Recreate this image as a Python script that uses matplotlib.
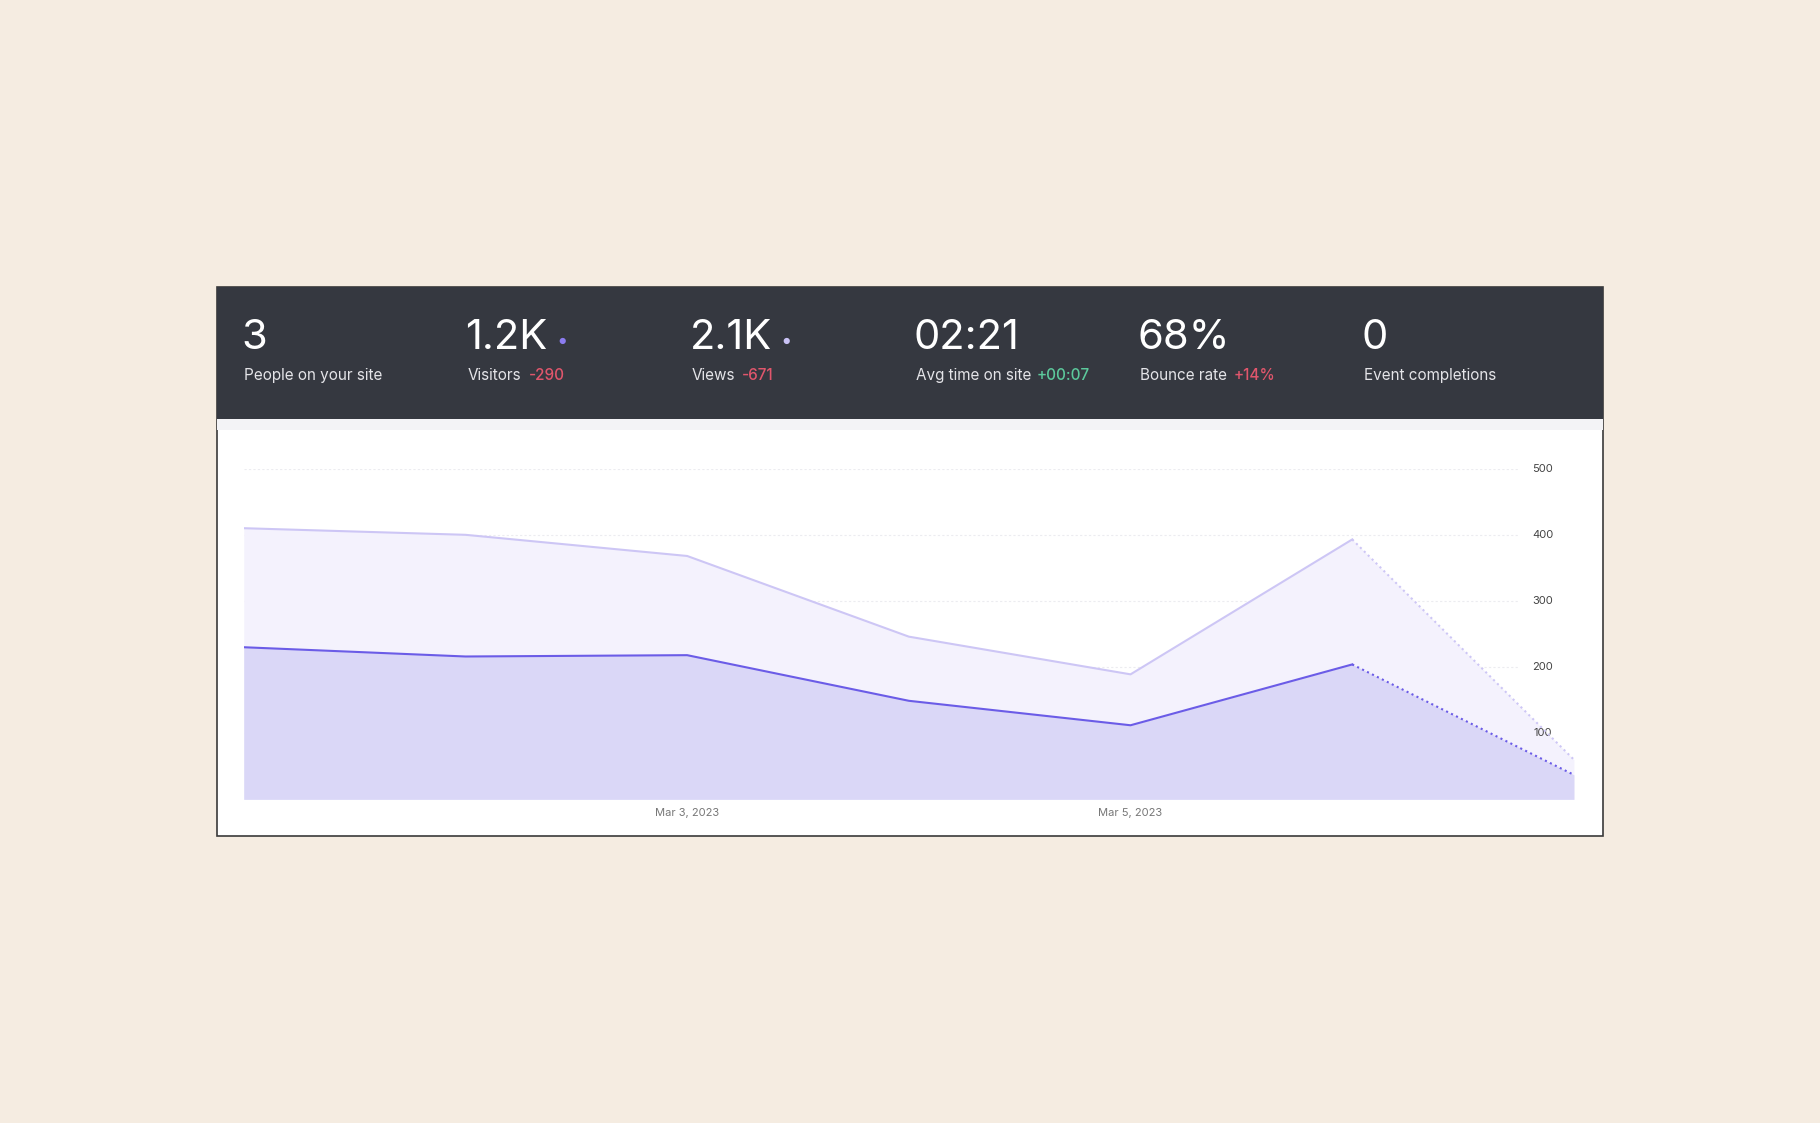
import matplotlib.pyplot as plt
from matplotlib.patches import Rectangle
import matplotlib.transforms as mtransforms

# data
days = [0, 1, 2, 3, 4, 5, 6]
views = [410, 400, 368, 246, 189, 393, 60]
visitors = [230, 216, 218, 149, 112, 204, 37]
y_ticks = [100, 200, 300, 400, 500]
x_labels = {2: "Mar 3, 2023", 4: "Mar 5, 2023"}

stat_values = ["3", "1.2K", "2.1K", "02:21", "68%", "0"]
stat_labels = ["People on your site", "Visitors", "Views", "Avg time on site", "Bounce rate", "Event completions"]
stat_changes = ["", "-290", "-671", "+00:07", "+14%", ""]
change_colors = ["", "#e0566c", "#e0566c", "#5cc99c", "#e0566c", ""]

W, H = 1568, 968  # reference layout units
bg = "#f5ece1"
header = "#353840"
vis_line, vis_fill = "#6b5ce7", "#dad7f7"
view_line, view_fill = "#cdc6f5", "#f4f2fd"

fig = plt.figure(figsize=(18.2, 11.23), dpi=100, facecolor=bg)
plt.rcParams['font.family'] = ['Inter', 'DejaVu Sans']


def fx(x):
    return x / W


def fy(y):
    return 1 - y / H


# card
fig.patches.append(Rectangle((fx(187), fy(721)), fx(1381) - fx(187), fy(247) - fy(721),
                             transform=fig.transFigure, facecolor="white", edgecolor="#3a3a3a",
                             linewidth=1.2, zorder=0))
fig.patches.append(Rectangle((fx(187), fy(371)), fx(1381) - fx(187), fy(361) - fy(371),
                             transform=fig.transFigure, facecolor="#f3f3f6", edgecolor="none", zorder=1))
fig.patches.append(Rectangle((fx(187), fy(361)), fx(1381) - fx(187), fy(247) - fy(361),
                             transform=fig.transFigure, facecolor=header, edgecolor="none", zorder=1))

# header stats
stat_x = [210, 403, 596, 789, 982, 1175]
label_end = [0, 449, 632, 886, 1056, 0]
for i in range(6):
    fig.text(fx(stat_x[i] - 2), fy(291), stat_values[i], color="white", fontsize=30,
             va="center", ha="left")
    fig.text(fx(stat_x[i]), fy(324), stat_labels[i], color="#e4e4e8", fontsize=11, va="center", ha="left")
    if stat_changes[i]:
        fig.text(fx(label_end[i] + 7), fy(324), stat_changes[i], color=change_colors[i],
                 fontsize=11, va="center", ha="left", fontweight="medium")
fig.text(fx(484), fy(294), "\u25CF", color="#8b7cf0", fontsize=6, ha="center", va="center")
fig.text(fx(677), fy(294), "\u25CF", color="#c9c2f5", fontsize=6, ha="center", va="center")

# chart
ax = fig.add_axes([fx(210), fy(689), fx(1356) - fx(210), fy(404) - fy(689)])
ax.set_zorder(5)
ax.set_xlim(0, 6)
ax.set_ylim(0, 500)
ax.axis("off")

for t in y_ticks:
    ax.plot([0, 5.75], [t, t], color="#ececf0", linewidth=0.8, linestyle=(0, (2, 2)), zorder=0)
    ax.text(6 - 0.14, t, str(t), fontsize=8, color="#444", ha="center", va="center")

ax.fill_between(days, views, color=view_fill, linewidth=0, zorder=1)
ax.fill_between(days, visitors, color=vis_fill, linewidth=0, zorder=2)
ax.plot(days[:6], views[:6], color=view_line, linewidth=1.5, zorder=3)
ax.plot(days[5:], views[5:], color=view_line, linewidth=1.5, linestyle=":", zorder=3)
ax.plot(days[:6], visitors[:6], color=vis_line, linewidth=1.5, zorder=4)
ax.plot(days[5:], visitors[5:], color=vis_line, linewidth=1.5, linestyle=":", zorder=4)

trans = mtransforms.blended_transform_factory(ax.transData, fig.transFigure)
for d, lab in x_labels.items():
    ax.text(d, fy(701), lab, transform=trans, fontsize=8, color="#777", ha="center", va="center",
            clip_on=False)

fig.savefig("out.png", dpi=100, facecolor=bg)
